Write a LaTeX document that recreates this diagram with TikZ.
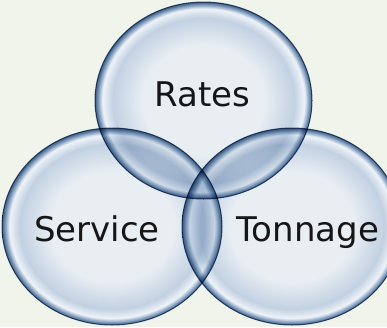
\documentclass[tikz,border=0pt]{standalone}
\usepackage{fontspec}
\setmainfont{DejaVu Sans}
\definecolor{bgc}{HTML}{F1F4EA}
\definecolor{bin}{HTML}{E9EEF3}
\definecolor{bmid}{HTML}{C2D1E2}
\definecolor{bhl}{HTML}{EEF3F8}
\definecolor{bband}{HTML}{8AA5C4}
\definecolor{bedge}{HTML}{3E5E84}
\definecolor{txt}{HTML}{161616}
\pgfdeclareradialshading{bubble}{\pgfpoint{0bp}{0bp}}{%
  color(0bp)=(bin); color(14bp)=(bin); color(21bp)=(bmid);
  color(23.3bp)=(bhl); color(24.2bp)=(bband); color(25bp)=(bedge); color(50bp)=(bedge)}
\tikzset{
  bubblefill/.style={shading=bubble},
  bubbleline/.style={draw=bedge, line width=1pt},
  lbl/.style={font=\fontsize{34}{40}\selectfont, text=txt, anchor=base, inner sep=0pt}
}
\begin{document}
\begin{tikzpicture}[x=1pt,y=-1pt]
\fill[bgc] (0,0) rectangle (387,327);
\useasboundingbox (0,0) rectangle (387,327);
\coordinate (ct) at (203.5,100.5);
\coordinate (cl) at (112,226.5);
\coordinate (cr) at (292,226.5);
\fill[white] (ct) ellipse [x radius=108.5, y radius=98.5];
\fill[white] (cl) ellipse [x radius=110, y radius=98.5];
\fill[white] (cr) ellipse [x radius=110, y radius=98.5];
\begin{scope}[blend mode=multiply]
\shade[bubblefill] (ct) ellipse [x radius=108.5, y radius=98.5];
\shade[bubblefill] (cl) ellipse [x radius=110, y radius=98.5];
\shade[bubblefill] (cr) ellipse [x radius=110, y radius=98.5];
\draw[bubbleline] (ct) ellipse [x radius=108.5, y radius=98.5];
\draw[bubbleline] (cl) ellipse [x radius=110, y radius=98.5];
\draw[bubbleline] (cr) ellipse [x radius=110, y radius=98.5];
\end{scope}
\node[lbl] (rates) at (202.5,106) {Rates};
\node[lbl] (service) at (97,241) {Service};
\node[lbl] (tonnage) at (308,241) {Tonnage};
\end{tikzpicture}
\end{document}
